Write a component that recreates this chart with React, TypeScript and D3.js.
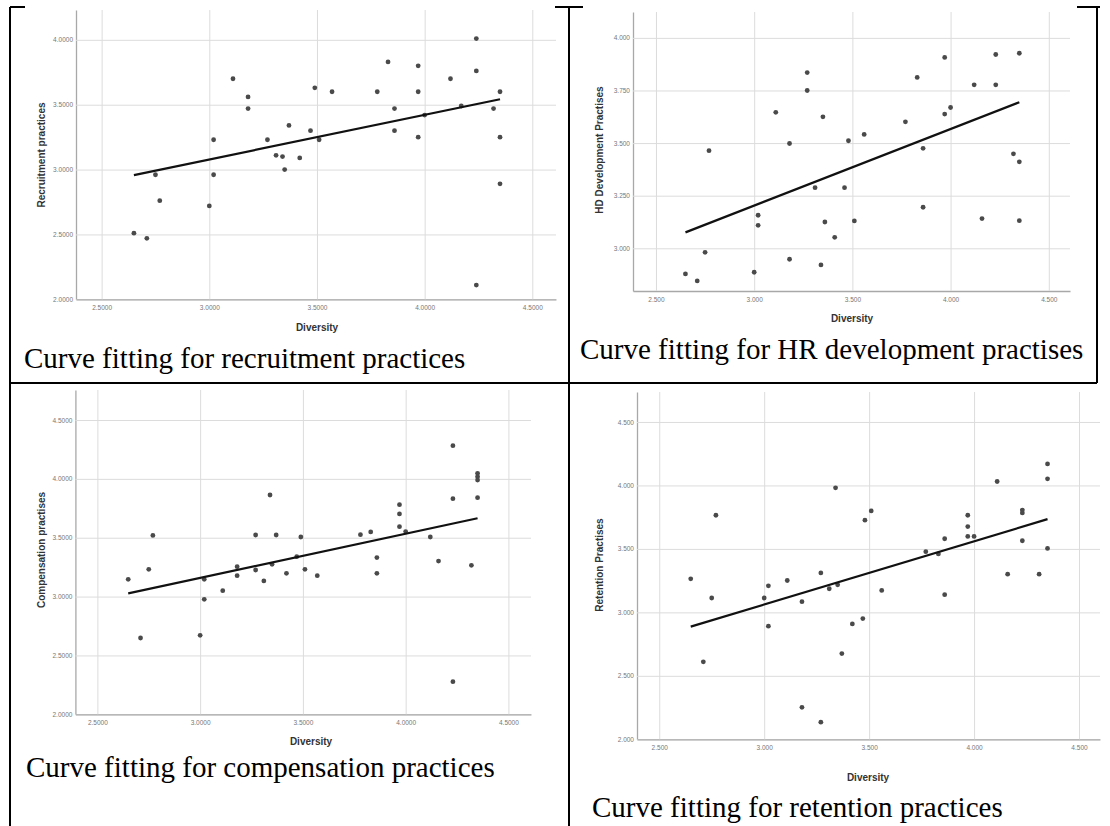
import React, { useEffect, useRef } from 'react';
import * as d3 from 'd3';

// values
const recruitDiversity = [2.65, 2.71, 2.75, 2.77, 3.00, 3.02, 3.02, 3.11, 3.18, 3.18, 3.27, 3.31, 3.34, 3.35, 3.37, 3.42, 3.47, 3.49, 3.51, 3.57, 3.78, 3.83, 3.86, 3.86, 3.97, 3.97, 3.97, 4.00, 4.12, 4.17, 4.24, 4.24, 4.24, 4.32, 4.35, 4.35, 4.35];
const recruitScore = [2.51, 2.47, 2.96, 2.76, 2.72, 3.23, 2.96, 3.70, 3.56, 3.47, 3.23, 3.11, 3.10, 3.00, 3.34, 3.09, 3.30, 3.63, 3.23, 3.60, 3.60, 3.83, 3.47, 3.30, 3.80, 3.60, 3.25, 3.42, 3.70, 3.49, 4.01, 3.76, 2.11, 3.47, 3.60, 3.25, 2.89];
const recruitFit = [2.046, 0.344]; // intercept, slope

const hrDiversity = [2.65, 2.71, 2.75, 2.77, 3.00, 3.02, 3.02, 3.11, 3.18, 3.18, 3.27, 3.27, 3.31, 3.34, 3.35, 3.36, 3.41, 3.46, 3.48, 3.51, 3.56, 3.77, 3.83, 3.86, 3.86, 3.97, 3.97, 4.00, 4.12, 4.16, 4.23, 4.23, 4.32, 4.35, 4.35, 4.35];
const hrScore = [2.878, 2.845, 2.981, 3.464, 2.886, 3.157, 3.109, 3.646, 3.498, 2.948, 3.835, 3.750, 3.288, 2.921, 3.625, 3.125, 3.052, 3.288, 3.511, 3.130, 3.541, 3.601, 3.812, 3.475, 3.195, 3.907, 3.638, 3.669, 3.777, 3.141, 3.921, 3.777, 3.449, 3.927, 3.411, 3.131];
const hrFit = [2.111, 0.364];

const compDiversity = [2.65, 2.71, 2.75, 2.77, 3.00, 3.02, 3.02, 3.11, 3.18, 3.18, 3.27, 3.27, 3.31, 3.34, 3.35, 3.37, 3.42, 3.47, 3.49, 3.51, 3.57, 3.78, 3.83, 3.86, 3.86, 3.97, 3.97, 3.97, 4.00, 4.12, 4.16, 4.23, 4.23, 4.23, 4.32, 4.35, 4.35, 4.35, 4.35];
const compScore = [3.147, 2.648, 3.232, 3.520, 2.671, 3.147, 2.977, 3.050, 3.254, 3.178, 3.523, 3.226, 3.133, 3.863, 3.274, 3.523, 3.198, 3.339, 3.506, 3.232, 3.178, 3.526, 3.549, 3.331, 3.198, 3.781, 3.702, 3.594, 3.552, 3.506, 3.302, 4.282, 3.832, 2.277, 3.266, 4.047, 4.019, 3.990, 3.840];
const compFit = [2.034, 0.375];

const retDiversity = [2.65, 2.71, 2.75, 2.77, 3.00, 3.02, 3.02, 3.11, 3.18, 3.18, 3.27, 3.27, 3.31, 3.34, 3.35, 3.37, 3.42, 3.47, 3.48, 3.51, 3.56, 3.77, 3.83, 3.86, 3.86, 3.97, 3.97, 3.97, 4.00, 4.11, 4.16, 4.23, 4.23, 4.23, 4.31, 4.35, 4.35, 4.35];
const retScore = [3.264, 2.610, 3.113, 3.765, 3.113, 3.209, 2.891, 3.251, 3.084, 2.252, 3.311, 2.135, 3.186, 3.981, 3.217, 2.675, 2.909, 2.951, 3.726, 3.799, 3.173, 3.478, 3.460, 3.580, 3.139, 3.765, 3.676, 3.598, 3.598, 4.031, 3.301, 3.806, 3.783, 3.564, 3.301, 4.169, 4.052, 3.504];
const retFit = [1.568, 0.498];

// tick labels
const diversityTicks = [2.5, 3.0, 3.5, 4.0, 4.5];
const recruitTicks = [2.0, 2.5, 3.0, 3.5, 4.0];
const hrTicks = [3.0, 3.25, 3.5, 3.75, 4.0];
const compTicks = [2.0, 2.5, 3.0, 3.5, 4.0, 4.5];
const retTicks = [2.0, 2.5, 3.0, 3.5, 4.0, 4.5];

const panels = [
  {
    xs: recruitDiversity, ys: recruitScore, fit: recruitFit,
    xTicks: diversityTicks, yTicks: recruitTicks, fmt: '.4f',
    yTitle: 'Recruitment practices', caption: 'Curve fitting for recruitment practices',
    left: 76, right: 556, top: 10, bottom: 299.3,
    xDomain: [2.381, 4.61], yDomain: [2.0, 4.23],
    yTitlePos: [41, 155], xTitlePos: [317, 327], capPos: [24, 368]
  },
  {
    xs: hrDiversity, ys: hrScore, fit: hrFit,
    xTicks: diversityTicks, yTicks: hrTicks, fmt: '.3f',
    yTitle: 'HD Development Practises', caption: 'Curve fitting for HR development practises',
    left: 633, right: 1070, top: 12, bottom: 291,
    xDomain: [2.383, 4.608], yDomain: [2.797, 4.123],
    yTitlePos: [599, 150], xTitlePos: [852, 318], capPos: [580, 359]
  },
  {
    xs: compDiversity, ys: compScore, fit: compFit,
    xTicks: diversityTicks, yTicks: compTicks, fmt: '.4f',
    yTitle: 'Compensation practises', caption: 'Curve fitting for compensation practices',
    left: 75.4, right: 531, top: 390, bottom: 714.3,
    xDomain: [2.393, 4.61], yDomain: [2.0, 4.755],
    yTitlePos: [41, 550], xTitlePos: [311, 741], capPos: [26, 777]
  },
  {
    xs: retDiversity, ys: retScore, fit: retFit,
    xTicks: diversityTicks, yTicks: retTicks, fmt: '.3f',
    yTitle: 'Retention Practises', caption: 'Curve fitting for retention practices',
    left: 637, right: 1100, top: 392, bottom: 739.3,
    xDomain: [2.394, 4.6], yDomain: [2.0, 4.736],
    yTitlePos: [599, 565], xTitlePos: [868, 777], capPos: [592, 817]
  }
];

const SANS = 'Liberation Sans, Arial, sans-serif';
const SERIF = 'Liberation Serif, Times New Roman, serif';

function drawPanel(svg, p) {
  const x = d3.scaleLinear().domain(p.xDomain).range([p.left, p.right]);
  const y = d3.scaleLinear().domain(p.yDomain).range([p.bottom, p.top]);
  const fmt = d3.format(p.fmt);
  const g = svg.append('g');

  // y axis + horizontal gridlines
  const ya = g.append('g')
    .attr('transform', 'translate(' + p.left + ',0)')
    .call(d3.axisLeft(y).tickValues(p.yTicks).tickFormat(fmt)
      .tickSizeInner(-(p.right - p.left)).tickSizeOuter(0).tickPadding(3));

  // x axis + vertical gridlines
  const xa = g.append('g')
    .attr('transform', 'translate(0,' + p.bottom + ')')
    .call(d3.axisBottom(x).tickValues(p.xTicks).tickFormat(fmt)
      .tickSizeInner(-(p.bottom - p.top)).tickSizeOuter(0).tickPadding(6));

  [ya, xa].forEach(a => {
    a.selectAll('.tick line').attr('stroke', '#dcdcdc').attr('stroke-width', 1);
    a.select('.domain').attr('stroke', '#a8a8a8').attr('stroke-width', 1.3);
    a.selectAll('.tick text')
      .attr('fill', '#777')
      .attr('font-family', SANS)
      .attr('font-size', 6.5);
  });

  // scatter points
  g.selectAll('.pt')
    .data(p.xs.map((d, i) => [d, p.ys[i]]))
    .enter().append('circle')
    .attr('class', 'pt')
    .attr('cx', d => x(d[0]))
    .attr('cy', d => y(d[1]))
    .attr('r', 2.4)
    .attr('fill', '#4a4a4a');

  // linear fit line
  const ext = d3.extent(p.xs);
  const line = d3.line().x(d => x(d)).y(d => y(p.fit[0] + p.fit[1] * d));
  g.append('path')
    .attr('d', line(ext))
    .attr('fill', 'none')
    .attr('stroke', '#111')
    .attr('stroke-width', 2.2);

  // axis titles
  g.append('text')
    .attr('transform', 'translate(' + p.yTitlePos[0] + ',' + p.yTitlePos[1] + ') rotate(-90)')
    .attr('text-anchor', 'middle')
    .attr('dy', '0.35em')
    .attr('font-family', SANS)
    .attr('font-weight', 'bold')
    .attr('font-size', 10)
    .attr('fill', '#333')
    .text(p.yTitle);

  g.append('text')
    .attr('x', p.xTitlePos[0])
    .attr('y', p.xTitlePos[1])
    .attr('text-anchor', 'middle')
    .attr('dy', '0.35em')
    .attr('font-family', SANS)
    .attr('font-weight', 'bold')
    .attr('font-size', 10)
    .attr('fill', '#333')
    .text('Diversity');

  // caption in the table cell
  svg.append('text')
    .attr('x', p.capPos[0])
    .attr('y', p.capPos[1])
    .attr('font-family', SERIF)
    .attr('font-size', 29)
    .attr('fill', '#000')
    .text(p.caption);
}

export default function App() {
  const ref = useRef(null);

  useEffect(() => {
    const svg = d3.select(ref.current);
    svg.selectAll('*').remove();

    svg.append('rect').attr('width', 1110).attr('height', 826).attr('fill', '#fff');

    // table borders
    const borders = [
      [10, 7, 1100, 7],
      [10, 383, 1097, 383],
      [10, 7, 10, 826],
      [569, 7, 569, 826],
      [1097, 7, 1097, 383]
    ];
    svg.selectAll('.border')
      .data(borders)
      .enter().append('line')
      .attr('class', 'border')
      .attr('x1', d => d[0]).attr('y1', d => d[1])
      .attr('x2', d => d[2]).attr('y2', d => d[3])
      .attr('stroke', '#000')
      .attr('stroke-width', 2);

    // top chart images sit over the top border
    svg.append('rect').attr('x', 25).attr('y', 0).attr('width', 530).attr('height', 335).attr('fill', '#fff');
    svg.append('rect').attr('x', 583).attr('y', 0).attr('width', 494).attr('height', 328).attr('fill', '#fff');

    panels.forEach(p => drawPanel(svg, p));
  }, []);

  return (
    <svg ref={ref} width={1110} height={826}
      style={{ position: 'absolute', left: 0, top: 0, display: 'block' }} />
  );
}
